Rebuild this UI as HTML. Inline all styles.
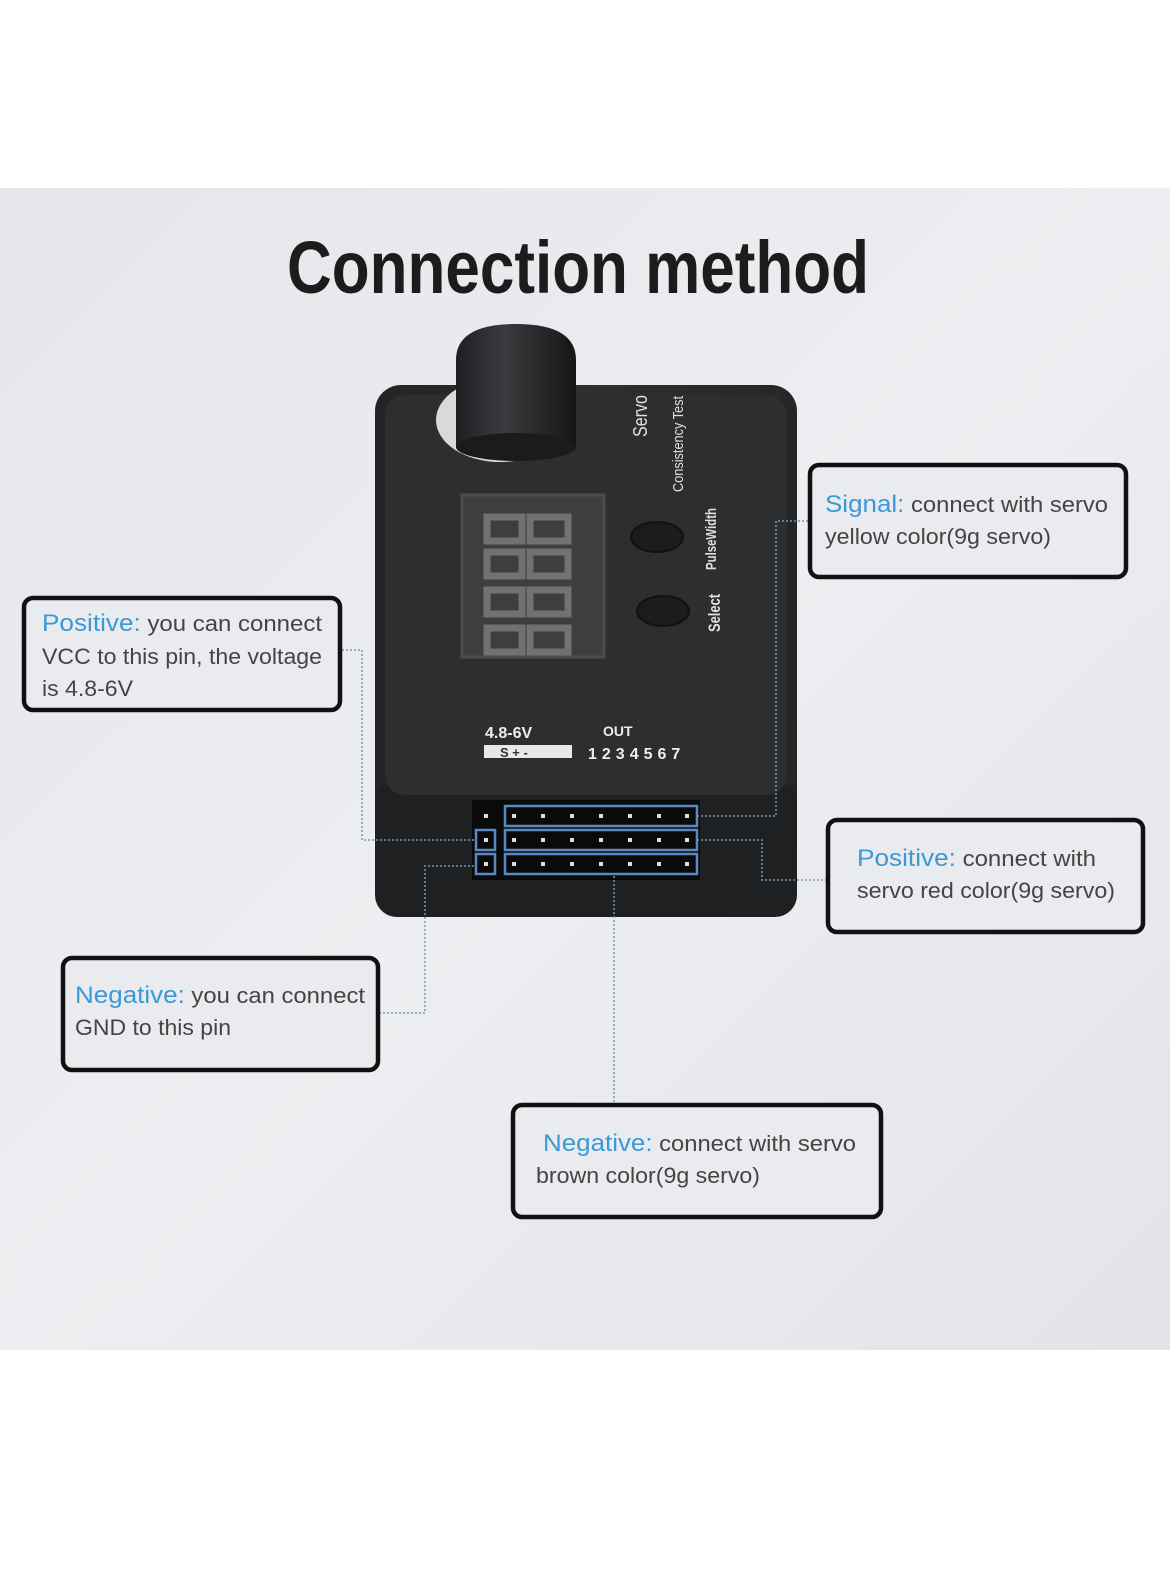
<!DOCTYPE html>
<html><head><meta charset="utf-8"><style>
html,body{margin:0;padding:0;background:#fff;}
svg{display:block}
</style></head><body>
<svg width="1170" height="1573" viewBox="0 0 1170 1573" xmlns="http://www.w3.org/2000/svg" font-family="Liberation Sans, sans-serif">
<defs>
<linearGradient id="bg" x1="0" y1="0" x2="1" y2="1">
<stop offset="0" stop-color="#e4e6ea"/><stop offset="0.5" stop-color="#eceef1"/><stop offset="1" stop-color="#e2e4e8"/>
</linearGradient>
<linearGradient id="knob" x1="0" y1="0" x2="1" y2="0">
<stop offset="0" stop-color="#1e1f21"/><stop offset="0.4" stop-color="#3a3b3e"/><stop offset="1" stop-color="#151617"/>
</linearGradient>
<linearGradient id="body" x1="0" y1="0" x2="1" y2="0">
<stop offset="0" stop-color="#232426"/><stop offset="0.5" stop-color="#2e2f31"/><stop offset="1" stop-color="#252628"/>
</linearGradient>
</defs>
<rect x="0" y="188" width="1170" height="1162" fill="url(#bg)"/>
<text x="578" y="293" text-anchor="middle" font-size="74" font-weight="bold" fill="#1c1c1c" font-family="Liberation Sans Narrow, Liberation Sans, sans-serif" textLength="582" lengthAdjust="spacingAndGlyphs">Connection method</text>

<!-- device -->
<rect x="375" y="385" width="422" height="532" rx="26" fill="url(#body)"/>
<rect x="375" y="780" width="422" height="137" rx="22" fill="#1f2022"/>
<rect x="385" y="395" width="402" height="400" rx="20" fill="#2d2e30"/>
<!-- knob -->
<ellipse cx="500" cy="420" rx="64" ry="42" fill="#d8d9db"/>
<ellipse cx="507" cy="422" rx="50" ry="34" fill="#2a2b2d"/>
<path d="M456,447 L456,360 Q456,324 516,324 Q576,324 576,360 L576,447 Z" fill="url(#knob)"/>
<ellipse cx="516" cy="447" rx="60" ry="14" fill="#1a1b1c"/>
<!-- display -->
<rect x="462" y="495" width="142" height="162" fill="#3c3e40" stroke="#4a4c4e" stroke-width="3"/>
<g fill="none" stroke="#6f7173" stroke-width="7">
<rect x="487" y="517" width="35" height="24"/><rect x="530" y="517" width="38" height="24"/>
<rect x="487" y="552" width="35" height="24"/><rect x="530" y="552" width="38" height="24"/>
<rect x="487" y="590" width="35" height="24"/><rect x="530" y="590" width="38" height="24"/>
<rect x="487" y="628" width="35" height="24"/><rect x="530" y="628" width="38" height="24"/>
</g>
<!-- buttons -->
<ellipse cx="657" cy="537" rx="26" ry="15" fill="#1b1c1d" stroke="#111" stroke-width="2"/>
<ellipse cx="663" cy="611" rx="26" ry="15" fill="#1b1c1d" stroke="#111" stroke-width="2"/>
<g fill="#e0e0e0" font-family="Liberation Sans Narrow, Liberation Sans, sans-serif">
<text transform="translate(647,437) rotate(-90)" font-size="20" textLength="42" lengthAdjust="spacingAndGlyphs">Servo</text>
<text transform="translate(683,492) rotate(-90)" font-size="15" textLength="96" lengthAdjust="spacingAndGlyphs">Consistency Test</text>
<text transform="translate(716,570) rotate(-90)" font-size="15" font-weight="bold" textLength="62" lengthAdjust="spacingAndGlyphs">PulseWidth</text>
<text transform="translate(720,632) rotate(-90)" font-size="17" font-weight="bold" textLength="38" lengthAdjust="spacingAndGlyphs">Select</text>
</g>
<text x="485" y="738" font-size="16" font-weight="bold" fill="#eee">4.8-6V</text>
<text x="603" y="736" font-size="14" font-weight="bold" fill="#eee">OUT</text>
<rect x="484" y="745" width="88" height="13" fill="#e8e8e8"/>
<text x="500" y="757" font-size="13" font-weight="bold" fill="#333">S  +  -</text>
<text x="588" y="759" font-size="16" font-weight="bold" fill="#eee" letter-spacing="5">1234567</text>
<!-- header -->
<rect x="472" y="800" width="228" height="80" fill="#0a0a0b"/>
<g fill="none" stroke="#5a88c0" stroke-width="2.5">
<rect x="505" y="806" width="192" height="20"/><rect x="505" y="830" width="192" height="20"/><rect x="505" y="854" width="192" height="20"/>
<rect x="476" y="830" width="19" height="20"/><rect x="476" y="854" width="19" height="20"/>
</g>
<g fill="#ddd">
<rect x="484" y="814" width="4" height="4"/><rect x="484" y="838" width="4" height="4"/><rect x="484" y="862" width="4" height="4"/>
<g id="pr"><rect x="512" y="814" width="4" height="4"/><rect x="541" y="814" width="4" height="4"/><rect x="570" y="814" width="4" height="4"/><rect x="599" y="814" width="4" height="4"/><rect x="628" y="814" width="4" height="4"/><rect x="657" y="814" width="4" height="4"/><rect x="685" y="814" width="4" height="4"/></g>
<use href="#pr" y="24"/><use href="#pr" y="48"/>
</g>
<!-- connectors -->
<g fill="none" stroke="#7a95b5" stroke-width="1.5" stroke-dasharray="2 2">
<polyline points="697,816 776,816 776,521 808,521"/>
<polyline points="697,840 762,840 762,880 826,880"/>
<polyline points="474,840 362,840 362,650 342,650"/>
<polyline points="474,866 425,866 425,1013 380,1013"/>
<polyline points="614,876 614,1103"/>
</g>
<!-- callouts -->
<g fill="#eaebee" stroke="#111" stroke-width="4.5">
<rect x="810" y="465" width="316" height="112" rx="9"/>
<rect x="24" y="598" width="316" height="112" rx="9"/>
<rect x="828" y="820" width="315" height="112" rx="9"/>
<rect x="63" y="958" width="315" height="112" rx="9"/>
<rect x="513" y="1105" width="368" height="112" rx="9"/>
</g>
<g font-size="22" fill="#444">
<text x="825" y="512" textLength="283" lengthAdjust="spacingAndGlyphs"><tspan fill="#3a9ad6" font-size="24">Signal:</tspan> connect with servo</text>
<text x="825" y="544" textLength="226" lengthAdjust="spacingAndGlyphs">yellow color(9g servo)</text>
<text x="42" y="631" textLength="280" lengthAdjust="spacingAndGlyphs"><tspan fill="#3a9ad6" font-size="24">Positive:</tspan> you can connect</text>
<text x="42" y="664" textLength="280" lengthAdjust="spacingAndGlyphs">VCC to this pin, the voltage</text>
<text x="42" y="696" textLength="91" lengthAdjust="spacingAndGlyphs">is 4.8-6V</text>
<text x="857" y="866" textLength="239" lengthAdjust="spacingAndGlyphs"><tspan fill="#3a9ad6" font-size="24">Positive:</tspan> connect with</text>
<text x="857" y="898" textLength="258" lengthAdjust="spacingAndGlyphs">servo red color(9g servo)</text>
<text x="75" y="1003" textLength="290" lengthAdjust="spacingAndGlyphs"><tspan fill="#3a9ad6" font-size="24">Negative:</tspan> you can connect</text>
<text x="75" y="1035" textLength="156" lengthAdjust="spacingAndGlyphs">GND to this pin</text>
<text x="543" y="1151" textLength="313" lengthAdjust="spacingAndGlyphs"><tspan fill="#3a9ad6" font-size="24">Negative:</tspan> connect with servo</text>
<text x="536" y="1183" textLength="224" lengthAdjust="spacingAndGlyphs">brown color(9g servo)</text>
</g>
</svg>
</body></html>
